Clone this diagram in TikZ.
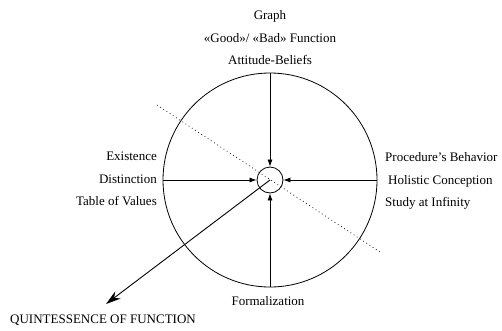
\documentclass[tikz,border=0pt]{standalone}
\usepackage{fontspec}
\setmainfont{Liberation Serif}
\usetikzlibrary{arrows.meta}
\begin{document}
\begin{tikzpicture}[x=1pt,y=-1pt,
  lbl/.style={font=\fontsize{13}{15}\selectfont, inner sep=0pt},
  spoke/.style={line width=0.7pt, -{Latex[length=7pt,width=5pt]}},
  big/.style={line width=0.9pt, -{Stealth[length=15pt,width=9pt]}}]
\useasboundingbox (0,0) rectangle (502,330);
\coordinate (c) at (270,180);
\draw[line width=0.8pt] (c) circle[radius=107];
\node[circle, draw, line width=0.8pt, minimum size=26pt, inner sep=0pt] (core) at (c) {};
\coordinate (top) at (270,73);
\coordinate (bot) at (270,287);
\coordinate (lft) at (163,180);
\coordinate (rgt) at (377,180);
\draw[spoke] (top) -- (core.north);
\draw[spoke] (bot) -- (core.south);
\draw[spoke] (lft) -- (core.west);
\draw[spoke] (rgt) -- (core.east);
\coordinate (d1) at (157,105);
\coordinate (d2) at (380,252);
\draw[line width=0.7pt, dash pattern=on 0.8pt off 3pt] (d1) -- (d2);
\coordinate (tip) at (106,304);
\draw[big] (c) -- (tip);
\node[lbl] (graph) at (270,16) {Graph};
\node[lbl] (gb) at (270,38) {«Good»/ «Bad» Function};
\node[lbl] (ab) at (270,60) {Attitude-Beliefs};
\node[lbl, anchor=east] (ex) at (157,156) {Existence};
\node[lbl, anchor=east] (di) at (157,179) {Distinction};
\node[lbl, anchor=east] (tv) at (157,201) {Table of Values};
\node[lbl, anchor=west] (pb) at (385,157) {Procedure's Behavior};
\node[lbl, anchor=west] (hc) at (388,181) {Holistic Conception};
\node[lbl, anchor=west] (si) at (385,203) {Study at Infinity};
\node[lbl] (fo) at (268,301) {Formalization};
\node[lbl, anchor=west] (qf) at (10,320) {QUINTESSENCE OF FUNCTION};
\end{tikzpicture}
\end{document}
